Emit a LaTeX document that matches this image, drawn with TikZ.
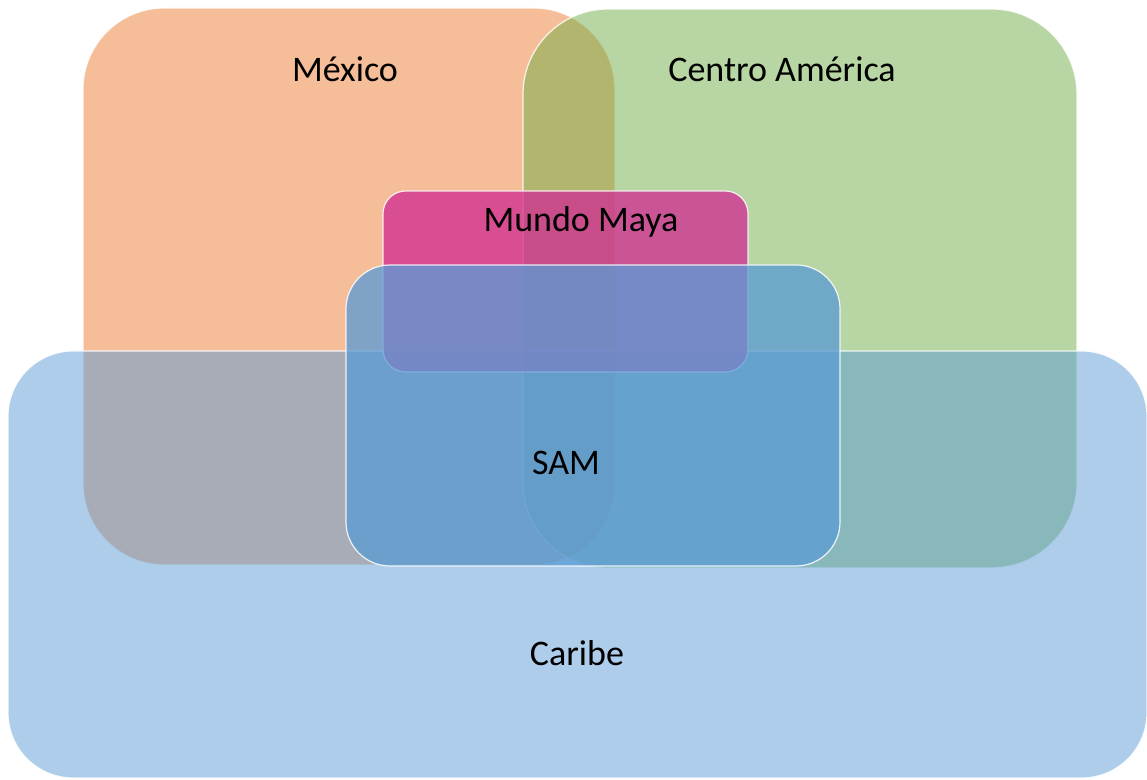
\documentclass[tikz,border=0pt]{standalone}
\usepackage{fontspec}
\setmainfont{Carlito}
\usetikzlibrary{positioning}
\definecolor{mexorange}{HTML}{ED7D31}
\definecolor{cengreen}{HTML}{70AD47}
\definecolor{caribblue}{HTML}{5B9BD5}
\definecolor{mayapink}{RGB}{208,42,145}
\definecolor{samblue}{HTML}{5B9BD5}
\tikzstyle{region} = [draw=white, draw opacity=0.85, line width=0.9pt]
\tikzstyle{lbl} = [font=\fontsize{27}{32}\selectfont, inner sep=0pt, anchor=base]

\begin{document}
\begin{tikzpicture}[x=0.75pt, y=-0.75pt]
    \useasboundingbox (0,0) rectangle (1147,780);
    % regions
    \draw [region, fill=mexorange, fill opacity=0.5, rounded corners=61pt] (83,8) rectangle (615,565);
    \draw [region, fill=cengreen, fill opacity=0.5, rounded corners=64pt] (523,9) rectangle (1077,568);
    \draw [region, fill=caribblue, fill opacity=0.5, rounded corners=49pt] (8,351) rectangle (1147,778);
    \draw [region, fill=mayapink, fill opacity=0.75, rounded corners=17pt] (383,191) rectangle (748,372);
    \draw [region, fill=samblue, fill opacity=0.76, rounded corners=33pt] (346,265) rectangle (840,566);
    % labels
    \node [lbl] (mexico) at (345,82) {México};
    \node [lbl] (centro) at (782,82) {Centro América};
    \node [lbl] (maya) at (581,232) {Mundo Maya};
    \node [lbl] (sam) at (566,475) {SAM};
    \node [lbl] (caribe) at (577,665) {Caribe};
\end{tikzpicture}
\end{document}
